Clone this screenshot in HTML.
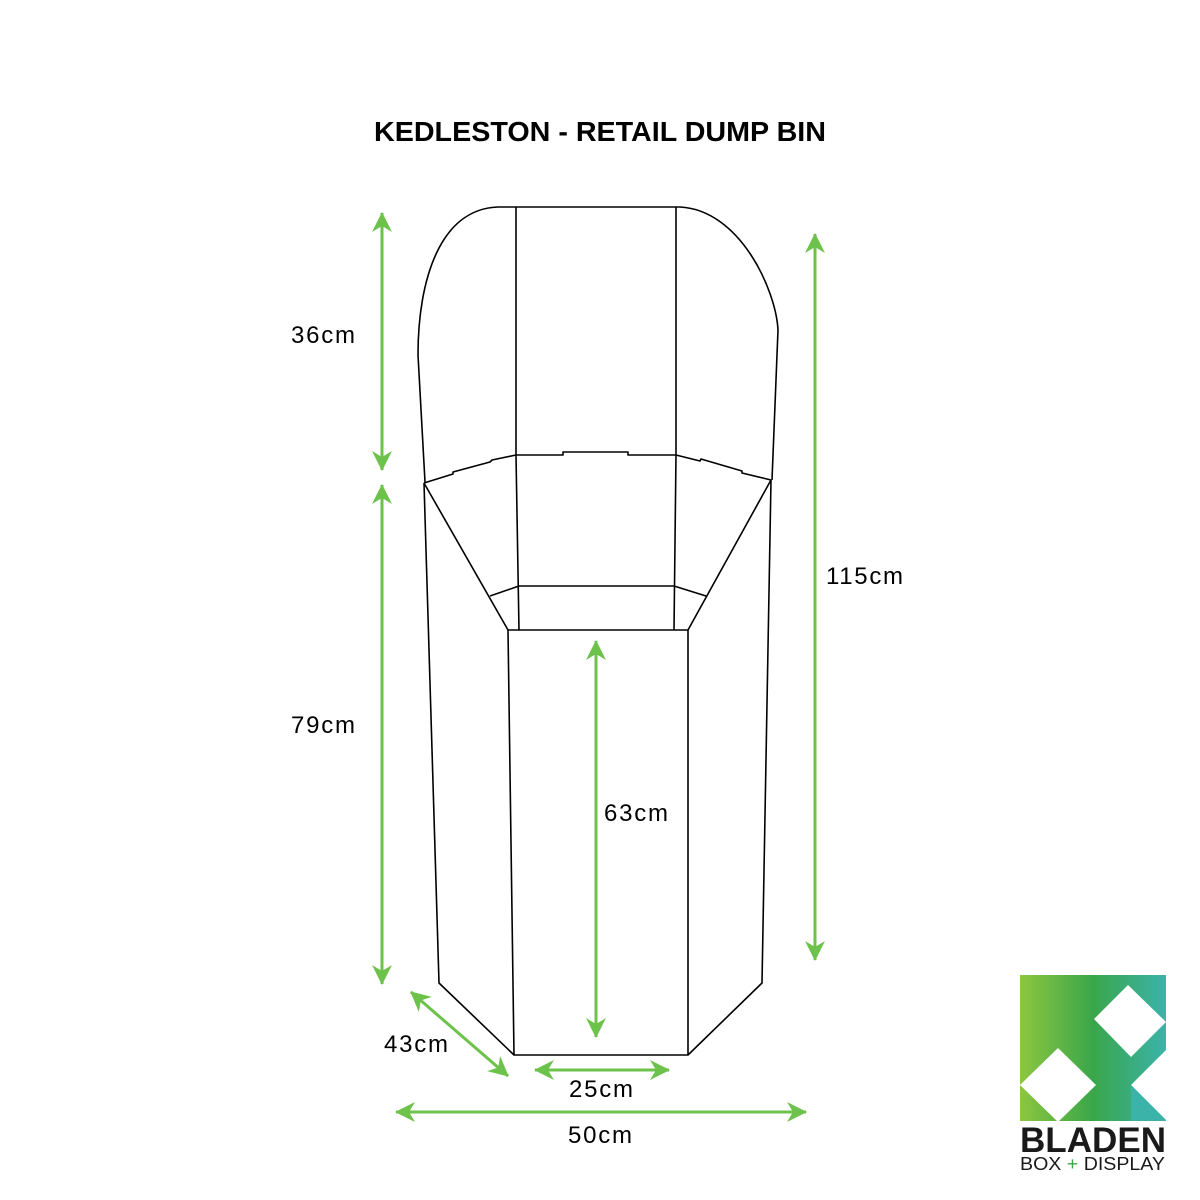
<!DOCTYPE html>
<html><head><meta charset="utf-8"><style>
html,body{margin:0;padding:0;background:#fff;}
svg{display:block;}
</style></head><body>
<svg width="1200" height="1200" viewBox="0 0 1200 1200" xmlns="http://www.w3.org/2000/svg">
<defs>
<marker id="ah" viewBox="0 0 20 20" refX="19" refY="10" markerWidth="20" markerHeight="20" markerUnits="userSpaceOnUse" orient="auto-start-reverse">
<path d="M20,10 L0,0 L6,10 L0,20 Z" fill="#6cc24a"/>
</marker>
<linearGradient id="lg" x1="0" y1="0" x2="1" y2="0">
<stop offset="0" stop-color="#8dc63f"/>
<stop offset="0.5" stop-color="#3aa64a"/>
<stop offset="1" stop-color="#3bb3a9"/>
</linearGradient>
</defs>
<text x="600" y="141" text-anchor="middle" font-family="Liberation Sans, sans-serif" font-weight="bold" font-size="28" fill="#000" textLength="452" lengthAdjust="spacingAndGlyphs">KEDLESTON - RETAIL DUMP BIN</text>
<g fill="none" stroke="#000" stroke-width="1.6" stroke-linejoin="round">
<path d="M425,482 L418,355 C418,280 440,209 498,207 L680,207 C740,210 776,290 778,330 L772,480"/>
<line x1="516" y1="207" x2="516" y2="455"/>
<line x1="676" y1="207" x2="676" y2="455"/>
<path d="M424,483 L453,474 L453,472 L490,462 L492,460 L516,455 L563,455 L563,452 L628,452 L628,455 L676,455 L700,461 L701,459 L742,471 L742,473 L771,480"/>
<path d="M424,483 L439,983 L514,1055 L688,1055 L762,983 L771,480"/>
<line x1="424" y1="483" x2="508" y2="630"/>
<line x1="771" y1="480" x2="688" y2="630"/>
<path d="M508,630 L688,630 L688,1055"/>
<line x1="508" y1="630" x2="514" y2="1055"/>
<line x1="516" y1="455" x2="519" y2="630"/>
<line x1="676" y1="455" x2="674" y2="630"/>
<path d="M490,596 L519,586 L674,586 L706,596"/>
</g>
<g stroke="#6cc24a" stroke-width="3" fill="none" marker-start="url(#ah)" marker-end="url(#ah)">
<line x1="382" y1="213" x2="382" y2="470"/>
<line x1="382" y1="485" x2="382" y2="984"/>
<line x1="815" y1="234" x2="815" y2="960"/>
<line x1="596" y1="641" x2="596" y2="1037"/>
<line x1="411" y1="992" x2="508" y2="1076"/>
<line x1="535" y1="1070" x2="669" y2="1070"/>
<line x1="396" y1="1112" x2="806" y2="1112"/>
</g>
<g font-family="Liberation Sans, sans-serif" font-size="24" fill="#000">
<text x="291" y="343" textLength="64">36cm</text>
<text x="291" y="733" textLength="64">79cm</text>
<text x="826" y="584" textLength="77">115cm</text>
<text x="604" y="821" textLength="64">63cm</text>
<text x="384" y="1052" textLength="64">43cm</text>
<text x="569" y="1097" textLength="64">25cm</text>
<text x="568" y="1143" textLength="64">50cm</text>
</g>
<rect x="1020" y="975" width="146" height="146" fill="url(#lg)"/>
<polygon points="1020,1085 1058,1048 1096,1085 1058,1122" fill="#fff"/>
<polygon points="1094,1019 1128,985 1166,1022 1131,1057" fill="#fff"/>
<polygon points="1131,1085 1166,1050 1166,1120" fill="#fff"/>
<polygon points="1131,1085 1166,1120 1131,1121" fill="#3bb3a9"/>
<text x="1020" y="1152" font-family="Liberation Sans, sans-serif" font-weight="bold" font-size="35" fill="#1a1a1a" textLength="146" lengthAdjust="spacingAndGlyphs">BLADEN</text>
<text x="1020" y="1170" font-family="Liberation Sans, sans-serif" font-size="18" fill="#1a1a1a" textLength="145" lengthAdjust="spacingAndGlyphs">BOX <tspan fill="#3aa64a">+</tspan> DISPLAY</text>
</svg>
</body></html>
